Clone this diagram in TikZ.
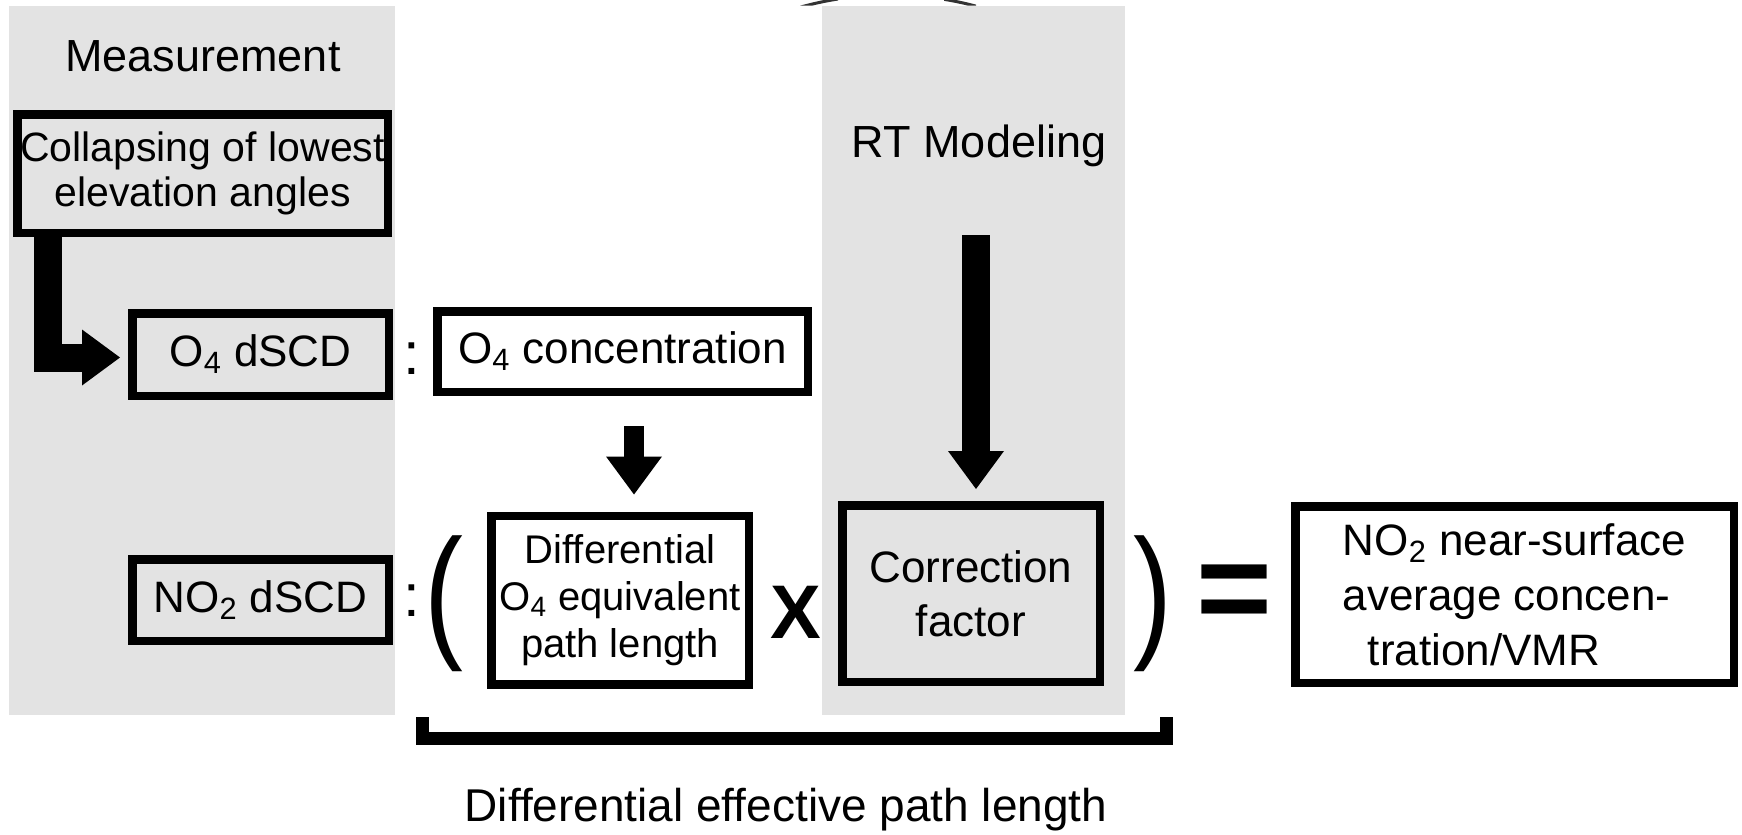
\documentclass[tikz,border=0pt]{standalone}
\usepackage{fontspec}
\setmainfont{Liberation Sans}
\usetikzlibrary{arrows.meta,calc}
\definecolor{panel}{RGB}{227,227,227}
\begin{document}
\begin{tikzpicture}[x=0.5pt,y=-0.5pt,
  box/.style={draw=black, line width=4.25pt, rectangle, inner sep=0pt, align=center},
  whitebox/.style={box, fill=white},
  boxfont/.style={font=\fontsize{22}{27}\selectfont},
  head/.style={inner sep=0pt, anchor=base, font=\fontsize{22.5}{27}\selectfont},
  sym/.style={inner sep=0pt},
  fatarrow/.style={line width=#1, -{Triangle[length=19pt 0, width=28pt 0, line width=0pt 0]}},
  bracket/.style={line width=6.5pt, line join=miter},
  topline/.style={line width=1.5pt, black!80}
]
\useasboundingbox (0,0) rectangle (1742,835);
% clipped arcs at the top edge
\begin{scope}
  \clip (800,-5) rectangle (838,5.5) (944,-5) rectangle (976,5.5);
  \draw[topline] (890,330) circle[radius=335];
\end{scope}
% panels
\fill[panel] (9,6) rectangle (395,715);
\fill[panel] (822,6) rectangle (1125,715);
% headers
\node[head] (meas) at (203,71) {Measurement};
\node[head] (rt) at (979,157) {RT Modeling};
% boxes
\node[box, minimum width=185.25pt, minimum height=59.25pt, font=\fontsize{20.5}{22.5}\selectfont]
  (collapse) at (202.5,173.5) {Collapsing of lowest\\elevation angles};
\node[box, boxfont, minimum width=128.25pt, minimum height=41.25pt]
  (o4dscd) at (260.5,354.5) {O\textsubscript{4} dSCD};
\node[whitebox, boxfont, minimum width=185.25pt, minimum height=40.25pt]
  (o4conc) at (622.5,351.5) {O\textsubscript{4} concentration};
\node[whitebox, minimum width=128.75pt, minimum height=84.25pt, font=\fontsize{20}{23.5}\selectfont]
  (diff) at (620,600) {Differential\\O\textsubscript{4} equivalent\\path length};
\node[box, boxfont, minimum width=128.25pt, minimum height=40.75pt]
  (no2dscd) at (260.5,600) {NO\textsubscript{2} dSCD};
\node[box, minimum width=128.75pt, minimum height=88.25pt, font=\fontsize{22}{27}\selectfont]
  (corr) at (971,593.5) {Correction\\factor};
\node[whitebox, minimum width=219.25pt, minimum height=88.25pt, align=left, font=\fontsize{22}{27.5}\selectfont]
  (result) at (1514.5,594.5) {NO\textsubscript{2} near-surface\\average concen-\\\hspace*{12.5pt}tration/VMR};
% symbols
\node[sym, font=\fontsize{30}{30}\selectfont] (colon1) at (412,358.5) {:};
\node[sym, font=\fontsize{30}{30}\selectfont] (colon2) at (412,601) {:};
\node[sym, font=\fontsize{73}{73}\selectfont] (lparen) at (444,603.5) {\scalebox{0.8}[1]{(}};
\node[sym, font=\fontsize{73}{73}\selectfont] (rparen) at (1153,603.5) {\scalebox{0.8}[1]{)}};
\node[sym, font=\bfseries\fontsize{38}{38}\selectfont] (times) at (796,612.5) {X};
\node[sym, font=\bfseries\fontsize{65}{65}\selectfont] (equals) at (1234.5,598.5) {=};
% arrows
\draw[fatarrow=14pt, line join=miter] ($(collapse.south)+(-154.5,0)$) |- ($(o4dscd.west)+(-8,3)$);
\draw[fatarrow=10pt] ($(o4conc.south)+(11.5,30)$) -- ($(diff.north)+(14,-17)$);
\coordinate (rtsrc) at (976,235);
\draw[fatarrow=14pt] (rtsrc) -- ($(corr.north)+(5,-12)$);
% bracket
\coordinate (bl) at (422,717);
\coordinate (br) at (1166,717);
\draw[bracket] (bl) -- ++(0,21.5) -| (br);
\node[head, font=\fontsize{23}{27}\selectfont] (brlabel) at (786,821) {Differential effective path length};
\end{tikzpicture}
\end{document}
